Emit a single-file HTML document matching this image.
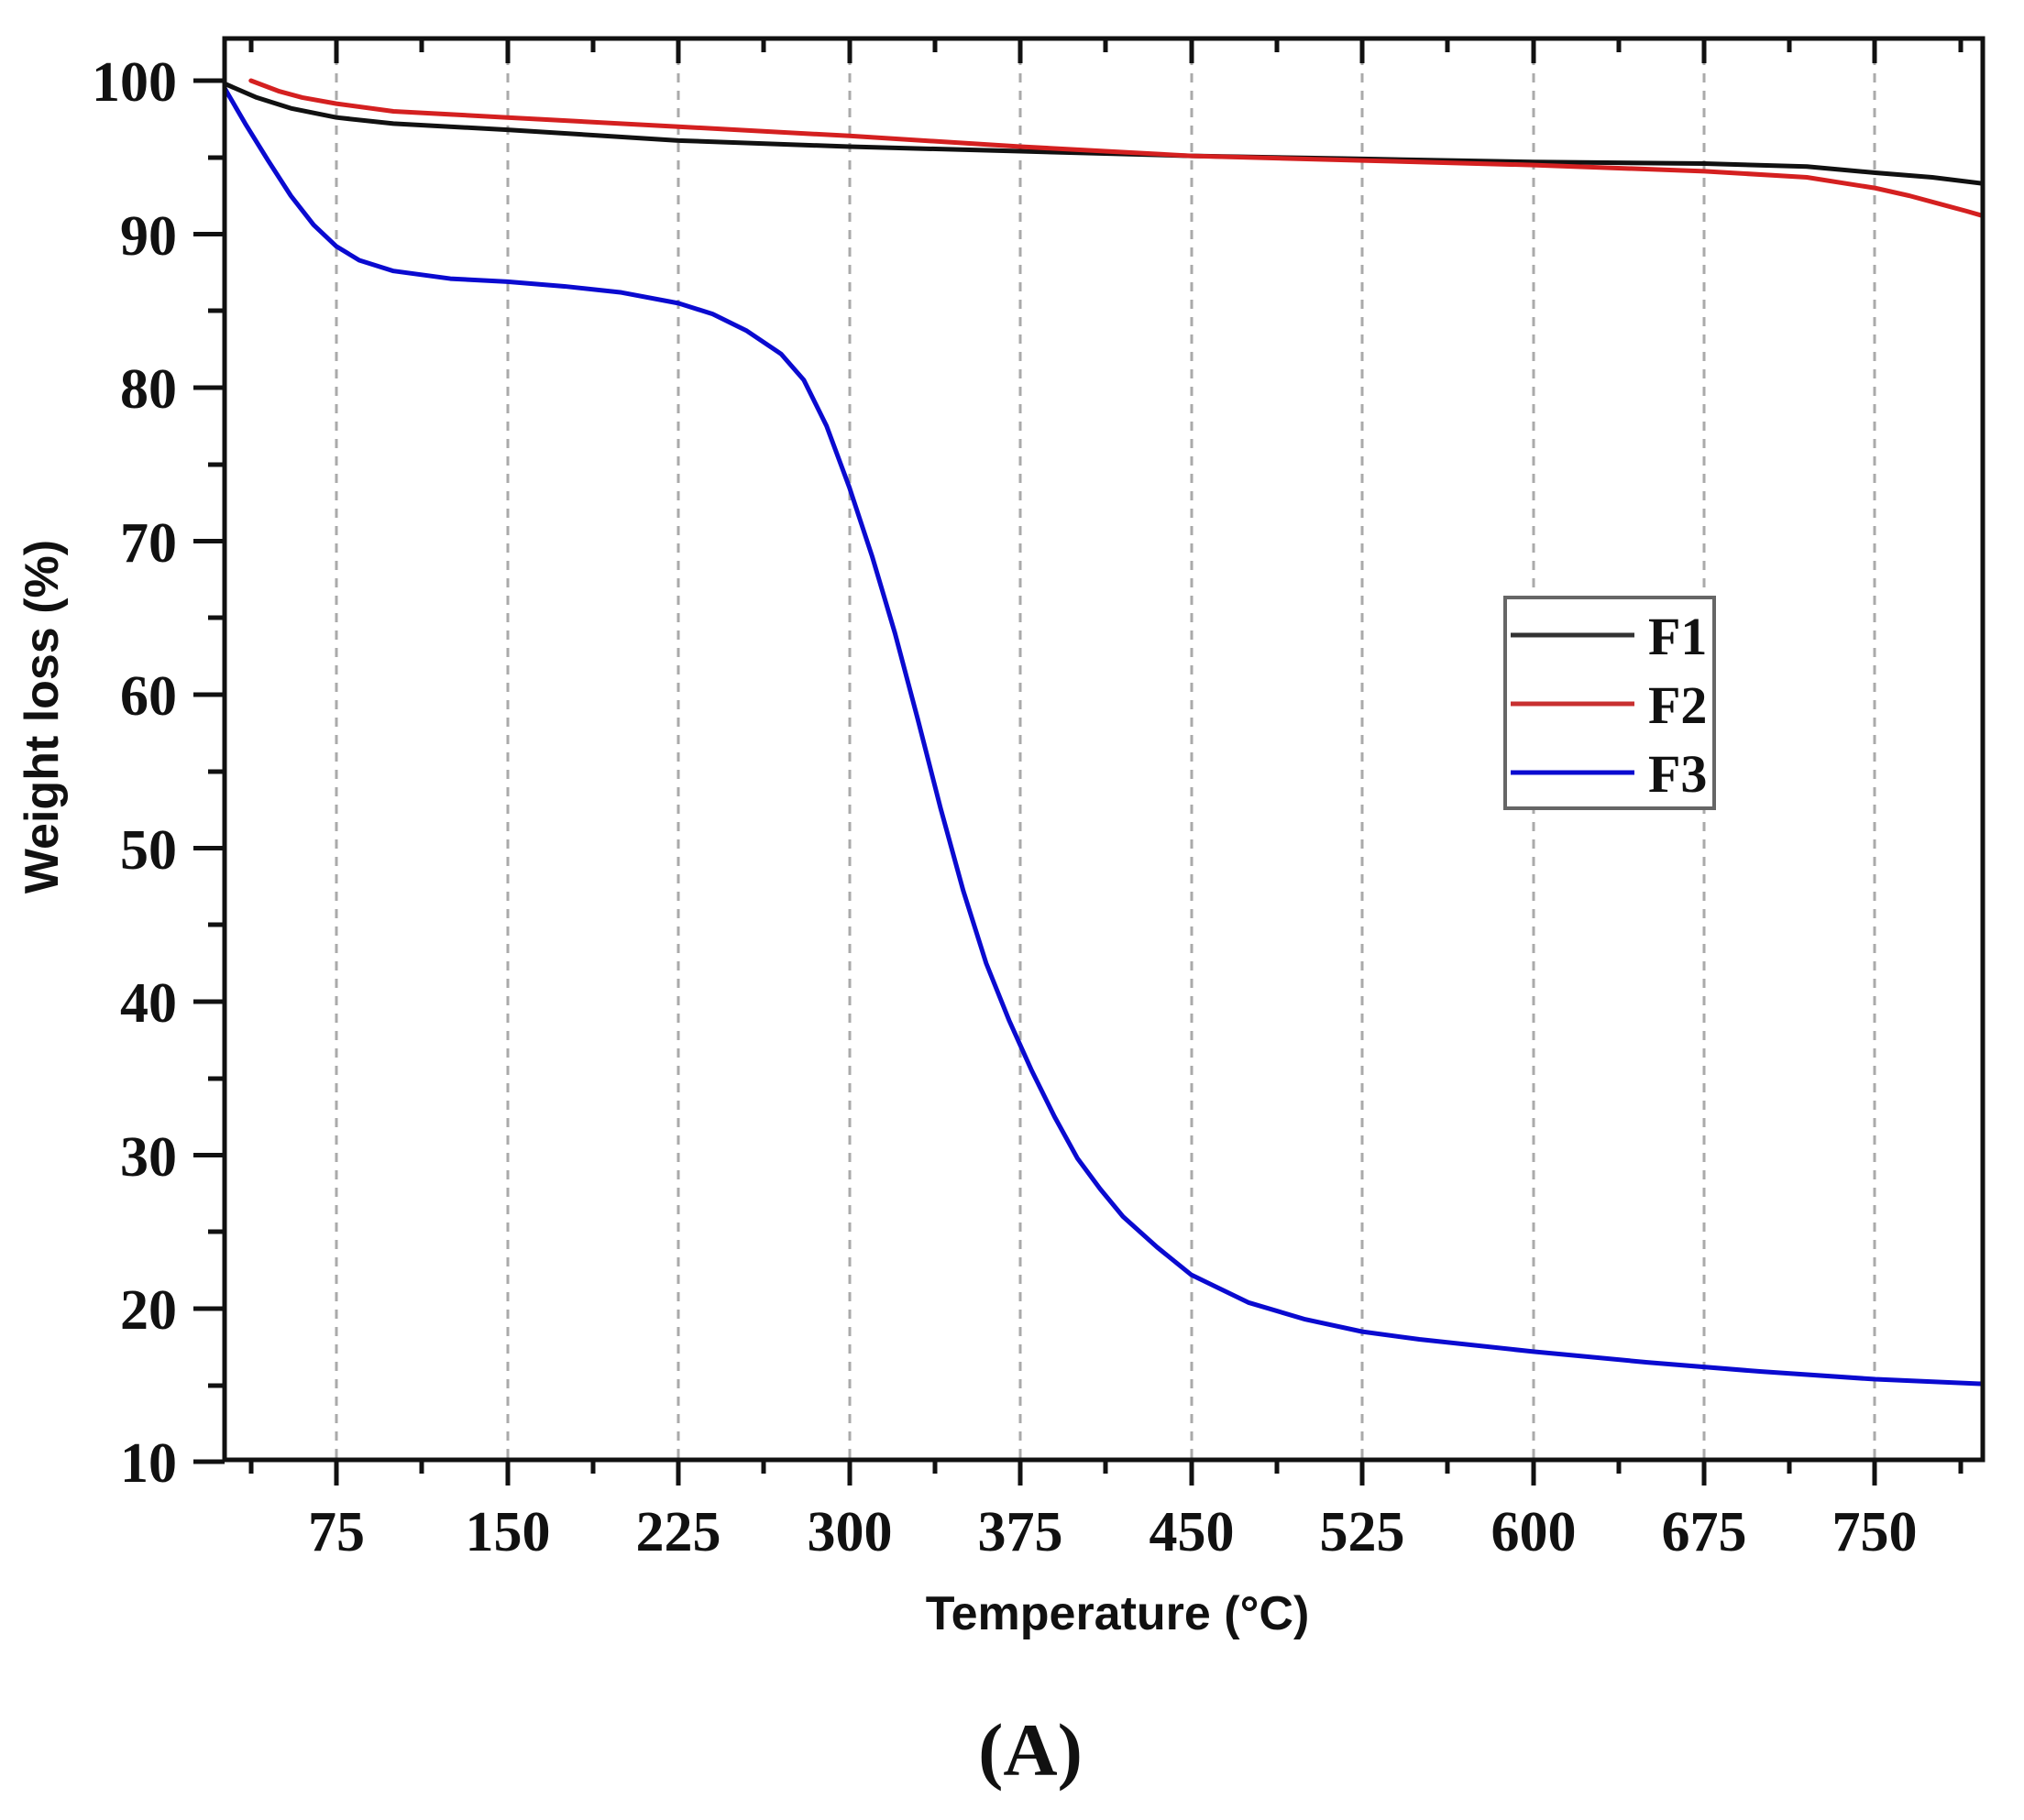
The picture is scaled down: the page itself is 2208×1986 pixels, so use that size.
<!DOCTYPE html>
<html><head><meta charset="utf-8"><style>
html,body{margin:0;padding:0;background:#fff;}
svg{display:block;}
.tl{font-family:"Liberation Serif",serif;font-weight:bold;font-size:62px;fill:#111;}
.at{font-family:"Liberation Sans",sans-serif;font-weight:bold;font-size:52px;fill:#111;}
</style></head><body>
<svg width="2208" height="1986" viewBox="0 0 2208 1986" xmlns="http://www.w3.org/2000/svg">
<rect width="2208" height="1986" fill="#fff"/>
<g stroke="#aaa" stroke-width="3" stroke-dasharray="10 9">
<line x1="367" y1="42" x2="367" y2="1593"/><line x1="554" y1="42" x2="554" y2="1593"/>
<line x1="740" y1="42" x2="740" y2="1593"/><line x1="927" y1="42" x2="927" y2="1593"/>
<line x1="1113" y1="42" x2="1113" y2="1593"/><line x1="1300" y1="42" x2="1300" y2="1593"/>
<line x1="1486" y1="42" x2="1486" y2="1593"/><line x1="1673" y1="42" x2="1673" y2="1593"/>
<line x1="1859" y1="42" x2="1859" y2="1593"/><line x1="2045" y1="42" x2="2045" y2="1593"/>
</g>
<g transform="matrix(2.487 0 0 -16.75 180.5 1763)" fill="none" stroke-linejoin="round" stroke-linecap="round">
<polyline vector-effect="non-scaling-stroke" stroke="#111" stroke-width="5" points="26,99.8 40,98.9 55,98.2 75,97.6 100,97.2 150,96.8 225,96.1 300,95.7 375,95.4 450,95.1 525,94.9 600,94.7 675,94.6 720,94.4 750,94.0 775,93.7 797,93.3"/>
<polyline vector-effect="non-scaling-stroke" stroke="#d42020" stroke-width="5" points="37.5,100 50,99.3 60,98.9 75,98.5 100,98.0 150,97.6 225,97.0 300,96.4 375,95.7 450,95.1 525,94.8 600,94.5 675,94.1 720,93.7 750,93.0 765,92.5 780,91.9 790,91.5 797,91.2"/>
<polyline vector-effect="non-scaling-stroke" stroke="#0a0ad0" stroke-width="5" points="26,99.5 35,97.2 45,94.8 55,92.5 65,90.6 75,89.2 85,88.3 100,87.6 125,87.1 150,86.9 175,86.6 200,86.2 225,85.5 240,84.8 255,83.7 270,82.2 280,80.5 290,77.5 300,73.5 310,69.0 320,64.0 330,58.4 340,52.6 350,47.2 360,42.5 370,38.8 380,35.5 390,32.5 400,29.8 410,27.8 420,26.0 435,24.0 450,22.2 475,20.4 500,19.3 525,18.5 550,18.0 600,17.2 650,16.5 700,15.9 750,15.4 797,15.1"/>
</g>
<rect x="245" y="42" width="1918" height="1551" fill="none" stroke="#111" stroke-width="5"/>
<g stroke="#111" stroke-width="5">
<line x1="211" y1="88" x2="245" y2="88"/><line x1="211" y1="255.5" x2="245" y2="255.5"/>
<line x1="211" y1="423" x2="245" y2="423"/><line x1="211" y1="590.5" x2="245" y2="590.5"/>
<line x1="211" y1="758" x2="245" y2="758"/><line x1="211" y1="925.5" x2="245" y2="925.5"/>
<line x1="211" y1="1093" x2="245" y2="1093"/><line x1="211" y1="1260.5" x2="245" y2="1260.5"/>
<line x1="211" y1="1428" x2="245" y2="1428"/><line x1="211" y1="1595" x2="245" y2="1595"/>
<line x1="227" y1="172" x2="245" y2="172"/><line x1="227" y1="339" x2="245" y2="339"/>
<line x1="227" y1="507" x2="245" y2="507"/><line x1="227" y1="674" x2="245" y2="674"/>
<line x1="227" y1="842" x2="245" y2="842"/><line x1="227" y1="1009" x2="245" y2="1009"/>
<line x1="227" y1="1177" x2="245" y2="1177"/><line x1="227" y1="1344" x2="245" y2="1344"/>
<line x1="227" y1="1512" x2="245" y2="1512"/>
</g>
<g stroke="#111" stroke-width="5">
<path d="M367 1593v28M554 1593v28M740 1593v28M927 1593v28M1113 1593v28M1300 1593v28M1486 1593v28M1673 1593v28M1859 1593v28M2045 1593v28"/>
<path d="M274 1593v15M460 1593v15M647 1593v15M833 1593v15M1020 1593v15M1206 1593v15M1393 1593v15M1579 1593v15M1766 1593v15M1952 1593v15M2139 1593v15"/>
<path d="M367 42v27M554 42v27M740 42v27M927 42v27M1113 42v27M1300 42v27M1486 42v27M1673 42v27M1859 42v27M2045 42v27"/>
<path d="M274 42v15M460 42v15M647 42v15M833 42v15M1020 42v15M1206 42v15M1393 42v15M1579 42v15M1766 42v15M1952 42v15M2139 42v15"/>
</g>
<g class="tl" text-anchor="end">
<text x="193" y="110">100</text><text x="193" y="278">90</text><text x="193" y="445">80</text>
<text x="193" y="613">70</text><text x="193" y="780">60</text><text x="193" y="948">50</text>
<text x="193" y="1115">40</text><text x="193" y="1283">30</text><text x="193" y="1450">20</text>
<text x="193" y="1617">10</text>
</g>
<g class="tl" text-anchor="middle">
<text x="367" y="1692">75</text><text x="554" y="1692">150</text><text x="740" y="1692">225</text>
<text x="927" y="1692">300</text><text x="1113" y="1692">375</text><text x="1300" y="1692">450</text>
<text x="1486" y="1692">525</text><text x="1673" y="1692">600</text><text x="1859" y="1692">675</text>
<text x="2045" y="1692">750</text>
</g>
<text class="at" text-anchor="middle" transform="translate(63,782) rotate(-90)">Weight loss (%)</text>
<text class="at" text-anchor="middle" x="1219" y="1778">Temperature (°C)</text>
<text class="tl" text-anchor="middle" x="1124" y="1937" style="font-size:82px">(A)</text>
<rect x="1642" y="652" width="228" height="230" fill="#fff" stroke="#666" stroke-width="4"/>
<g stroke-width="5">
<line x1="1648" y1="693" x2="1783" y2="693" stroke="#333"/>
<line x1="1648" y1="768" x2="1783" y2="768" stroke="#c83030"/>
<line x1="1648" y1="843" x2="1783" y2="843" stroke="#0a0ad0"/>
</g>
<g class="tl" style="font-size:58px">
<text x="1798" y="714">F1</text><text x="1798" y="789">F2</text><text x="1798" y="864">F3</text>
</g>
</svg>
</body></html>
